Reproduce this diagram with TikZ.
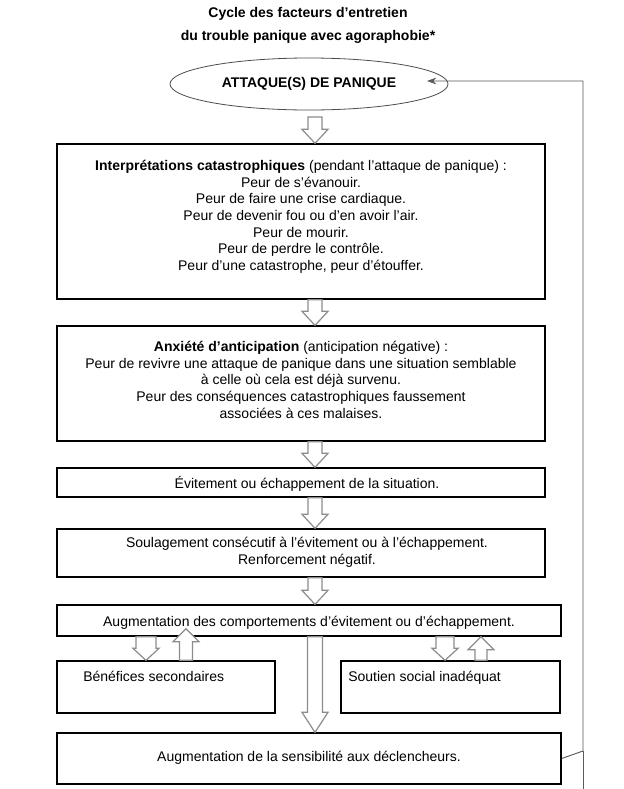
\documentclass[tikz,border=0pt]{standalone}
\usepackage{fontspec}
\setmainfont{Liberation Sans}
\usetikzlibrary{shapes.geometric,arrows.meta,calc,fit,positioning}

\newcommand{\taille}{\fontsize{10.5pt}{12.5pt}\selectfont}
% fleche creuse : demi-largeur, longueur de pointe, depart, arrivee
\newcommand{\flechebas}[4]{%
\draw[bloc] let \p1=#3, \p2=#4 in (\x1-#1,\y1) -- (\x1+#1,\y1) -- (\x1+#1,\y2+#2) -- (\x1+9.75pt,\y2+#2) -- (\x1,\y2) -- (\x1-9.75pt,\y2+#2) -- (\x1-#1,\y2+#2) -- cycle;}
\newcommand{\flechehaut}[4]{%
\draw[bloc] let \p1=#3, \p2=#4 in (\x1-#1,\y1) -- (\x1+#1,\y1) -- (\x1+#1,\y2-#2) -- (\x1+9.75pt,\y2-#2) -- (\x1,\y2) -- (\x1-9.75pt,\y2-#2) -- (\x1-#1,\y2-#2) -- cycle;}

\begin{document}
\begin{tikzpicture}[x=0.75pt, y=-0.75pt, boite/.style={draw, line width=1pt, inner sep=0pt}, texte/.style={inner sep=0pt, align=center}, titre/.style={inner sep=0pt, font=\taille\bfseries}, bloc/.style={draw=black!45, fill=white, line width=0.9pt, line join=miter}, retour/.style={draw=black!65, line width=0.7pt}]
\useasboundingbox (0,0) rectangle (624,789);
\begin{scope}[every node/.style={font=\taille}]
\node[titre, anchor=base] (titre1) at (308,17) {Cycle des facteurs d’entretien};
\node[titre, anchor=base] (titre2) at (308,40) {du trouble panique avec agoraphobie*};
\node[draw=black!70, ellipse, line width=0.6pt, minimum width=208.5pt, minimum height=39pt, font=\taille\bfseries] (attaque) at (309,84) {ATTAQUE(S) DE PANIQUE};
\node[boite, fit={(57,144) (545,299)}] (interp) {};
\node[texte, anchor=north] (interptxt) at (301,160) {\textbf{Interprétations catastrophiques} (pendant l’attaque de panique) :\\
Peur de s’évanouir.\\
Peur de faire une crise cardiaque.\\
Peur de devenir fou ou d’en avoir l’air.\\
Peur de mourir.\\
Peur de perdre le contrôle.\\
Peur d’une catastrophe, peur d’étouffer.};
\node[boite, fit={(57,326) (545,441)}] (anx) {};
\node[texte, anchor=north] (anxtxt) at (301,341) {\textbf{Anxiété d’anticipation} (anticipation négative) :\\
Peur de revivre une attaque de panique dans une situation semblable\\
à celle où cela est déjà survenu.\\
Peur des conséquences catastrophiques faussement\\
associées à ces malaises.};
\node[boite, fit={(57,468) (545,497)}] (evit) {};
\node[texte] (evittxt) at ($(evit)+(6,1)$) {Évitement ou échappement de la situation.};
\node[boite, fit={(57,529) (545,577)}] (soul) {};
\node[texte] (soultxt) at ($(soul)+(6,-1)$) {Soulagement consécutif à l’évitement ou à l’échappement.\\ Renforcement négatif.};
\node[boite, fit={(57,605) (561,636)}] (augc) {};
\node[texte] (augctxt) at ($(augc)+(0,2)$) {Augmentation des comportements d’évitement ou d’échappement.};
\node[boite, fit={(57,661) (275,713)}] (benef) {};
\node[texte, anchor=base west] (beneftxt) at (83,681) {Bénéfices secondaires};
\node[boite, fit={(341,661) (560,713)}] (soutien) {};
\node[texte, anchor=base west] (soutientxt) at (348,681) {Soutien social inadéquat};
\node[boite, fit={(57,733) (561,784)}] (sens) {};
\node[texte] (senstxt) at ($(sens)+(0,-1)$) {Augmentation de la sensibilité aux déclencheurs.};
\end{scope}
\coordinate (axe) at (315,0);
\coordinate (axeg) at (146,0);
\coordinate (axeg2) at (186,0);
\coordinate (axed) at (445,0);
\coordinate (axed2) at (481,0);
\coordinate (a1) at (315,117);
\begin{scope}
\flechebas{5.25pt}{10.5pt}{(a1)}{(interp.north -| axe)}
\flechebas{5.25pt}{10.5pt}{(interp.south -| axe)}{(anx.north -| axe)}
\flechebas{5.25pt}{10.5pt}{(anx.south -| axe)}{(evit.north -| axe)}
\flechebas{5.25pt}{10.5pt}{(evit.south -| axe)}{(soul.north -| axe)}
\flechebas{5.25pt}{10.5pt}{(soul.south -| axe)}{(augc.north -| axe)}
\flechebas{5.6pt}{15pt}{(augc.south -| axe)}{(sens.north -| axe)}
\flechebas{7.5pt}{9pt}{(augc.south -| axeg)}{(benef.north -| axeg)}
\flechehaut{4.9pt}{9.75pt}{(benef.north -| axeg2)}{($(augc.south -| axeg2)+(0,-8)$)}
\flechebas{6.75pt}{9pt}{(augc.south -| axed)}{(soutien.north -| axed)}
\flechehaut{4.5pt}{9.75pt}{(soutien.north -| axed2)}{(augc.south -| axed2)}
\end{scope}
\coordinate (jonction) at (583,751);
\coordinate (coin) at (583,81);
\coordinate (pointe) at (427,81);
\coordinate (bas) at (583,789);
\draw[retour, -{Stealth[length=7pt, width=5pt]}] (sens.east) -- (jonction) -- (coin) -- (pointe);
\draw[retour] (jonction) -- (bas);
\end{tikzpicture}
\end{document}
